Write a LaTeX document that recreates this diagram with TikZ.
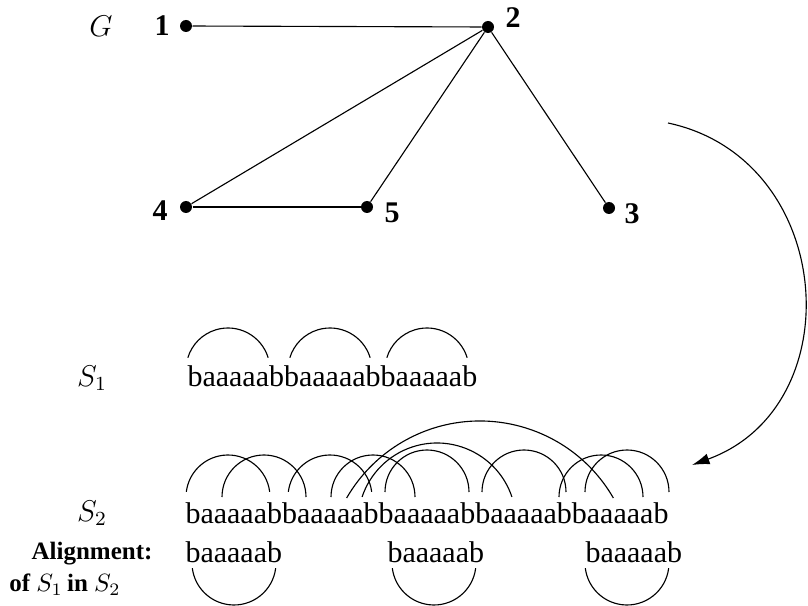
\documentclass[tikz,border=0pt]{standalone}
\usepackage{fontspec}
\setmainfont{Liberation Serif}
\usetikzlibrary{arrows.meta}

\begin{document}
\begin{tikzpicture}[x=0.4pt, y=0.4pt, >={Latex[length=7pt, width=4.4pt]},
    dot/.style={circle, fill, inner sep=0pt, minimum size=4.8pt},
    lbl/.style={font=\fontsize{10}{12}\selectfont\bfseries},
    num/.style={font=\fontsize{12}{14}\selectfont\bfseries},
    tag/.style={font=\fontsize{12}{14}\selectfont},
    word/.style={inner sep=0pt, anchor=base west, font=\fontsize{12}{14}\selectfont},
    edge/.style={line width=0.45pt},
    bump/.style={line width=0.45pt}]
    \useasboundingbox (0,0) rectangle (808,-606);

    % Graph G
    \node[tag] (g) at (101,-26) {$G$};
    \node[dot] (n1) at (186,-26) {};
    \node[dot] (n2) at (488,-27) {};
    \node[dot] (n3) at (609,-208) {};
    \node[dot] (n4) at (186,-207) {};
    \node[dot] (n5) at (367,-207) {};
    \node[num] (l1) at (162,-26) {1};
    \node[num] (l2) at (513,-18) {2};
    \node[num] (l3) at (632,-214) {3};
    \node[num] (l4) at (160,-211) {4};
    \node[num] (l5) at (392,-213) {5};
    \draw[edge] (n1) -- (n2);
    \draw[edge] (n2) -- (n4);
    \draw[edge] (n2) -- (n5);
    \draw[edge] (n2) -- (n3);
    \draw[edge] (n4) -- (n5);

    % Mapping arrow
    \coordinate (arrS) at (668,-123);
    \coordinate (arrE) at (692,-465);
    \draw[->, edge] (arrS) to[out=-12, in=20, looseness=1.28] (arrE);

    % String S_1
    \node[tag] (s1) at (92,-378) {$S_1$};
    \node[word] (t1) at (187,-386) {baaaaabbaaaaabbaaaaab};
    \foreach \cx in {228,330,427}
        \draw[bump] (\cx,-370) ++(17:42) arc[start angle=17, end angle=163, radius=42];

    % String S_2
    \node[tag] (s2) at (92,-513) {$S_2$};
    \node[word] (t2) at (185,-523) {baaaaabbaaaaabbaaaaabbaaaaabbaaaaab};
    \foreach \cx/\cy/\a in {228/497/7, 264/497/0, 330/497/7, 373/497/0,
                            427/492/0, 524/492/0, 601/497/0, 627/492/0}
        \draw[bump] (\cx,-\cy) ++(\a:42) arc[start angle=\a, end angle=180-\a, radius=42];
    \draw[bump] (480,-575) ++(30:154) arc[start angle=30, end angle=150, radius=154];
    \draw[bump] (437,-522) ++(18.5:79) arc[start angle=18.5, end angle=161.5, radius=79];

    % Alignment
    \node[lbl] (al) at (92,-554) {Alignment:};
    \node[lbl] (of) at (65,-585) {of $S_1$\,in $S_2$};
    \node[word] (a1) at (185,-562) {baaaaab};
    \node[word] (a2) at (387,-562) {baaaaab};
    \node[word] (a3) at (585,-562) {baaaaab};
    \foreach \cx in {234,434,627}
        \draw[bump] (\cx,-563) ++(-7:42) arc[start angle=-7, end angle=-173, radius=42];
\end{tikzpicture}
\end{document}
